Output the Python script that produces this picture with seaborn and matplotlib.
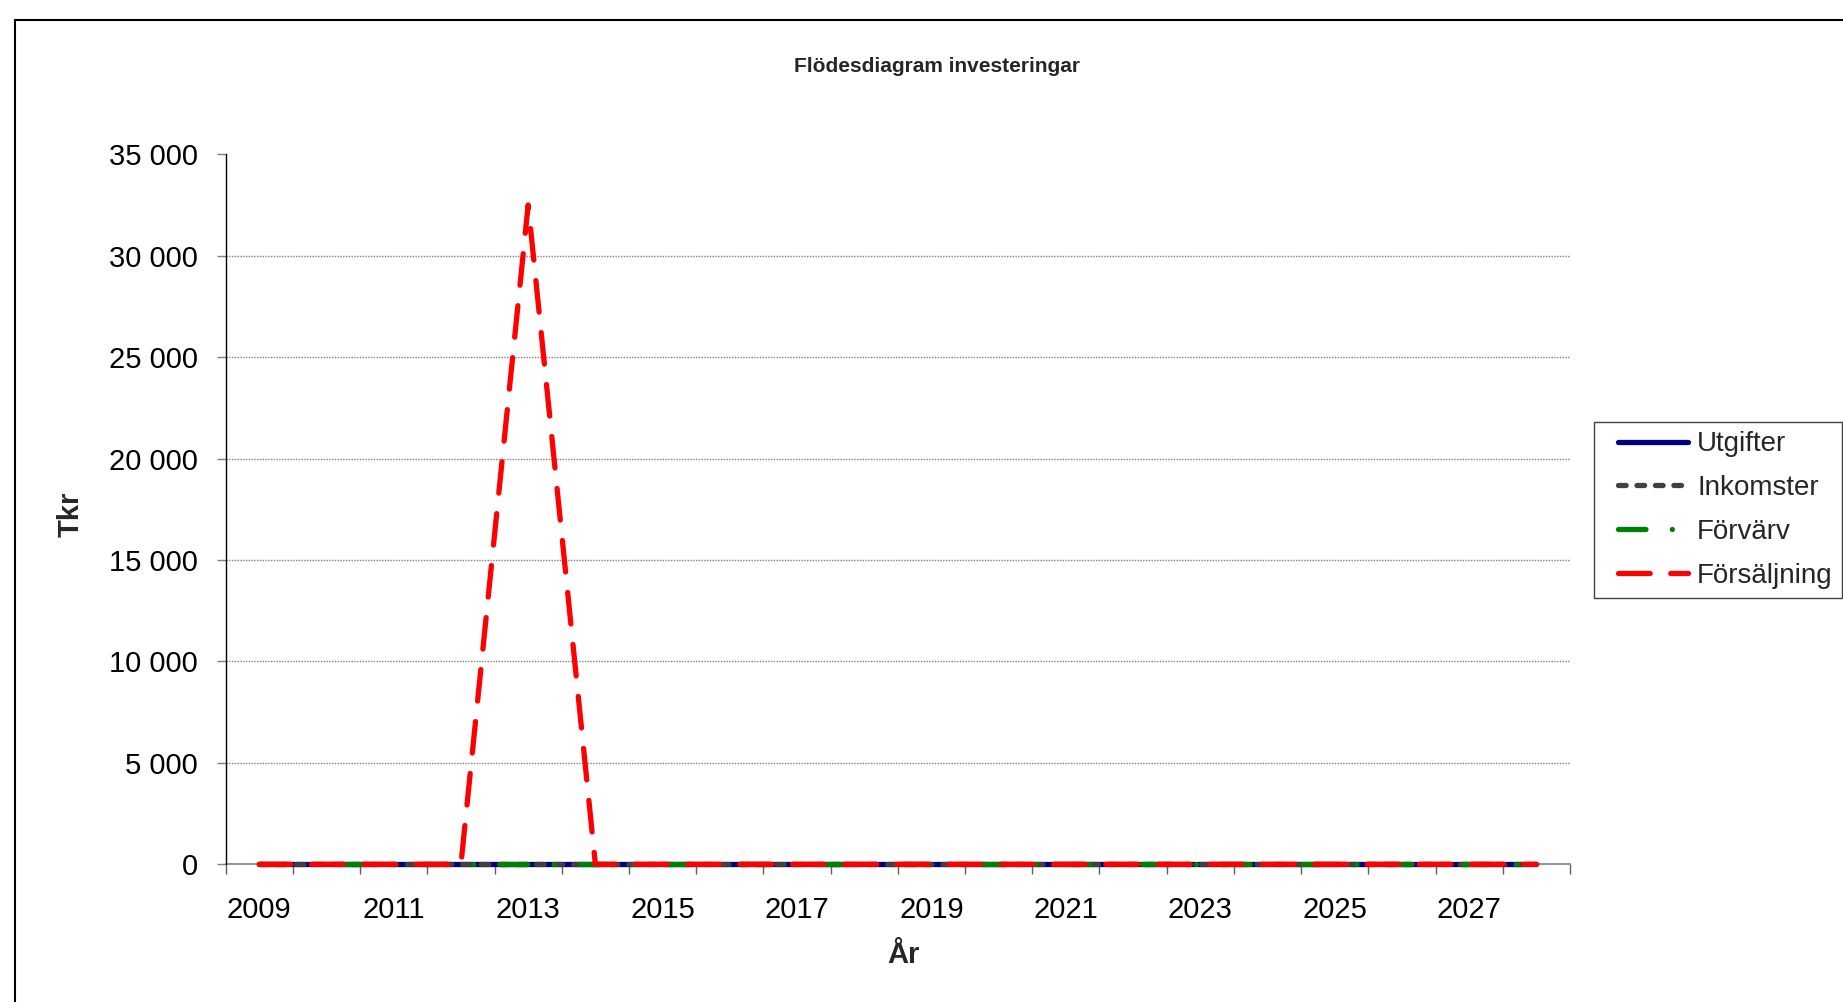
import matplotlib
matplotlib.use("Agg")
import matplotlib.pyplot as plt
from matplotlib.patches import Rectangle
from matplotlib.lines import Line2D
from matplotlib.legend_handler import HandlerLine2D
from matplotlib.ticker import FixedLocator, FuncFormatter
import seaborn as sns
import pandas as pd

# ---- data ----
years = list(range(2009, 2029))
utgifter = [0] * 20
inkomster = [0] * 20
forvarv = [0] * 20
forsaljning = [0, 0, 0, 0, 32500, 0, 0, 0, 0, 0, 0, 0, 0, 0, 0, 0, 0, 0, 0, 0]
series_names = ["Utgifter", "Inkomster", "Förvärv", "Försäljning"]
title = "Flödesdiagram investeringar"
ylabel = "Tkr"
xlabel = "År"
yticks = [0, 5000, 10000, 15000, 20000, 25000, 30000, 35000]
label_years = list(range(2009, 2029, 2))

df = pd.DataFrame({
    "År": years * 4,
    "Tkr": utgifter + inkomster + forvarv + forsaljning,
    "Serie": sum([[n] * len(years) for n in series_names], []),
})

sns.set_style("white")
plt.rcParams["font.family"] = ["Liberation Sans", "DejaVu Sans"]

W, H = 1843, 1002
fig = plt.figure(figsize=(W / 100, H / 100), dpi=100)
L, R, B, T = 225.7, 1570.0, 864.3, 154.2
ax = fig.add_axes([L / W, 1 - B / H, (R - L) / W, (B - T) / H])

palette = {"Utgifter": "#000080", "Inkomster": "#404040",
           "Förvärv": "#008000", "Försäljning": "#FF0000"}
dashes = {"Utgifter": "", "Inkomster": (1.45, 2.05),
          "Förvärv": (5.2, 5.0, 0.01, 5.0), "Försäljning": (6.0, 3.9)}
LW = 3.8

sns.lineplot(data=df, x="År", y="Tkr", hue="Serie", style="Serie",
             hue_order=series_names, style_order=series_names,
             palette=palette, dashes=dashes, linewidth=LW, ax=ax,
             legend=True)
for ln in ax.lines:
    ln.set_dash_capstyle("round")
    ln.set_solid_capstyle("round")
    ln.set_clip_on(False)

ax.set_xlim(2008.5, 2028.5)
ax.set_ylim(0, 35000)

# y axis
ax.yaxis.set_major_locator(FixedLocator(yticks))
ax.yaxis.set_major_formatter(FuncFormatter(lambda v, p: f"{int(v):,}".replace(",", " ")))
ax.tick_params(axis="y", which="major", left=True, length=6.5, width=1,
               color="#808080", pad=13.5, labelsize=21, labelcolor="black")
# x axis: labels at every second category, ticks at category boundaries
ax.xaxis.set_major_locator(FixedLocator(label_years))
ax.xaxis.set_major_formatter(FuncFormatter(lambda v, p: f"{int(round(v))}"))
ax.xaxis.set_minor_locator(FixedLocator([y - 0.5 for y in years] + [years[-1] + 0.5]))
ax.tick_params(axis="x", which="major", bottom=True, length=0, pad=22.5,
               labelsize=21, labelcolor="black")
ax.tick_params(axis="x", which="minor", bottom=True, length=7, width=1,
               color="#606060")

# grid
ax.grid(False)
for v in yticks[1:-1]:
    ax.axhline(v, color="#808080", lw=1.0, ls=(0, (1, 1)), zorder=0)

for s in ["top", "right"]:
    ax.spines[s].set_visible(False)
ax.spines["left"].set_color("black")
ax.spines["left"].set_linewidth(1.0)
ax.spines["bottom"].set_color("#808080")
ax.spines["bottom"].set_linewidth(1.2)
ax.spines["bottom"].set_zorder(0.5)

ax.set_ylabel(ylabel, fontsize=21, fontweight="bold", va="center")
ax.yaxis.set_label_coords((71 - L) / (R - L), 0.493)
ax.set_xlabel(xlabel, fontsize=21, fontweight="bold", va="center")
ax.xaxis.set_label_coords((903 - L) / (R - L), (B - 955) / (B - T))

fig.text(937 / W, 1 - 67 / H, title, ha="center", va="center",
         fontsize=15, fontweight="bold")

# legend
handles, labels = ax.get_legend_handles_labels()
leg = ax.legend(handles, labels, loc="center left",
                bbox_to_anchor=(1594 / W, 1 - 510 / H),
                bbox_transform=fig.transFigure, borderaxespad=0,
                fontsize=20, handlelength=3.03, handletextpad=0.33,
                labelspacing=0.64, borderpad=0.35, frameon=True,
                fancybox=False, framealpha=1,
                handler_map={Line2D: HandlerLine2D(xpad=0.51)})
leg.get_frame().set_edgecolor("#404040")
leg.get_frame().set_linewidth(1.0)
for h in leg.get_lines():
    h.set_linewidth(LW)
    h.set_dash_capstyle("round")
    h.set_solid_capstyle("round")

# outer chart-area border (cropped at right and bottom)
fig.patches.append(Rectangle((15 / W, -0.2), 1.2, 1.2 - 20 / H,
                             transform=fig.transFigure, fill=False,
                             edgecolor="black", linewidth=1.5))

fig.savefig("out.png", dpi=100, facecolor="white")
